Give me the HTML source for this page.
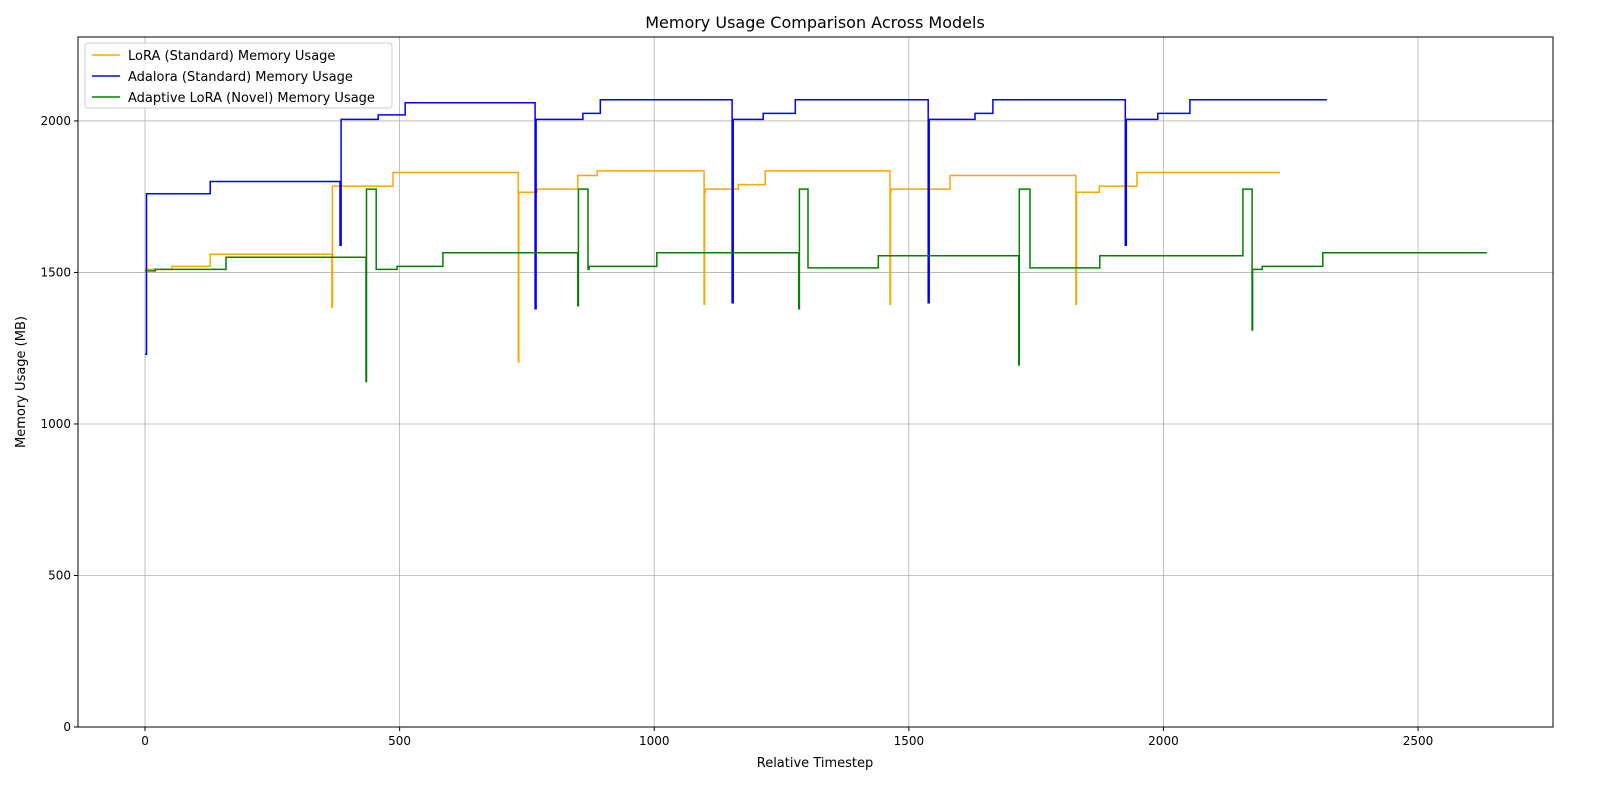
<!DOCTYPE html>
<html><head><meta charset="utf-8">
<style>
html,body{margin:0;padding:0;background:#fff;overflow:hidden;width:1600px;height:800px;font-family:"Liberation Sans","DejaVu Sans",sans-serif;}
svg{display:block;}
svg text{font-family:"DejaVu Sans","Liberation Sans",sans-serif;}
</style></head>
<body>
<svg id="chart" width="1600" height="800" xmlns="http://www.w3.org/2000/svg">
<rect width="1600" height="800" fill="#fff"/>
<g id="grid"></g>
<g id="series"></g>
<rect x="78" y="37" width="1475" height="690" fill="none" stroke="#000" stroke-width="1"/>
<g id="ticks"></g>
<text x="815" y="28" font-size="16" text-anchor="middle">Memory Usage Comparison Across Models</text>
<text x="815" y="767" font-size="13" text-anchor="middle">Relative Timestep</text>
<text x="25" y="382" font-size="13" text-anchor="middle" transform="rotate(-90 25 382)">Memory Usage (MB)</text>
<g>
<rect x="85" y="43" width="307" height="65" fill="#fff" fill-opacity="0.8" stroke="#ccc" rx="3"/>
<line x1="92" y1="55" x2="120" y2="55" stroke="orange" stroke-width="1.5"/>
<text x="128" y="60" font-size="13">LoRA (Standard) Memory Usage</text>
<line x1="92" y1="76" x2="120" y2="76" stroke="blue" stroke-width="1.5"/>
<text x="128" y="81" font-size="13">Adalora (Standard) Memory Usage</text>
<line x1="92" y1="97" x2="120" y2="97" stroke="green" stroke-width="1.5"/>
<text x="128" y="102" font-size="13">Adaptive LoRA (Novel) Memory Usage</text>
</g>
</svg>
<script>
const xTicks=[0,500,1000,1500,2000,2500];
const yTicks=[0,500,1000,1500,2000];
const loraT=[0,53,128,367,368,369,487,733,734,735,770,850,888,1098,1099,1100,1165,1218,1463,1464,1465,1581,1828,1829,1830,1874,1948,2229];
const loraV=[1510,1520,1560,1385,1785,1785,1830,1205,1765,1765,1775,1820,1835,1395,1765,1775,1790,1835,1395,1765,1775,1820,1395,1765,1765,1785,1830,1830];
const adaT=[0,3,128,383,385,458,511,766,768,770,860,894,1153,1155,1157,1214,1277,1538,1540,1542,1630,1665,1925,1927,1929,1989,2052,2321];
const adaV=[1230,1760,1800,1590,2005,2020,2060,1380,2005,2005,2025,2070,1400,2005,2005,2025,2070,1400,2005,2005,2025,2070,1590,2005,2005,2025,2070,2070];
const adpT=[0,20,159,434,435,454,495,585,850,851,870,872,1005,1284,1285,1302,1440,1716,1717,1738,1875,2156,2174,2175,2194,2313,2635];
const adpV=[1505,1510,1550,1140,1775,1510,1520,1565,1390,1775,1510,1520,1565,1380,1775,1515,1555,1195,1775,1515,1555,1775,1310,1510,1520,1565,1565];
const X0=78,X1=1553,Y0=727,Y1=37,xmin=-131.6,xmax=2765,ymin=0,ymax=2277;
const sx=t=>X0+(t-xmin)/(xmax-xmin)*(X1-X0);
const sy=v=>Y0-(v-ymin)/(ymax-ymin)*(Y0-Y1);
const NS="http://www.w3.org/2000/svg";
const grid=document.getElementById('grid'),ticks=document.getElementById('ticks'),ser=document.getElementById('series');
function mk(tag,attrs,parent){const e=document.createElementNS(NS,tag);for(const k in attrs)e.setAttribute(k,attrs[k]);parent.appendChild(e);return e;}
xTicks.forEach(t=>{const x=sx(t);
 const g=mk('line',{x1:x,x2:x,y1:Y1,y2:Y0,stroke:'#b0b0b0','stroke-width':0.8},grid);
 
 
 mk('line',{x1:x,x2:x,y1:Y0,y2:Y0+4,stroke:'#000'},ticks);
 const tx=mk('text',{x:x,y:Y0+18,'font-size':12,'text-anchor':'middle'},ticks);tx.textContent=t;
 
 
});
yTicks.forEach(v=>{const y=sy(v);
 const g=mk('line',{x1:X0,x2:X1,y1:y,y2:y,stroke:'#b0b0b0','stroke-width':0.8},grid);
 
 
 mk('line',{x1:X0-4,x2:X0,y1:y,y2:y,stroke:'#000'},ticks);
 const tx=mk('text',{x:X0-7,y:y+4,'font-size':12,'text-anchor':'end'},ticks);tx.textContent=v;
 
 
});
function step(T,V){let d='';for(let i=0;i<T.length;i++){d+=(i?'L':'M')+sx(T[i]).toFixed(1)+','+sy(V[i]).toFixed(1);if(i<T.length-1)d+='L'+sx(T[i+1]).toFixed(1)+','+sy(V[i]).toFixed(1);}return d;}
const p1=mk('path',{d:step(loraT,loraV),fill:'none',stroke:'orange','stroke-width':1.5},ser);


const p2=mk('path',{d:step(adaT,adaV),fill:'none',stroke:'blue','stroke-width':1.5},ser);


const p3=mk('path',{d:step(adpT,adpV),fill:'none',stroke:'green','stroke-width':1.5},ser);


</script>
</body></html>
